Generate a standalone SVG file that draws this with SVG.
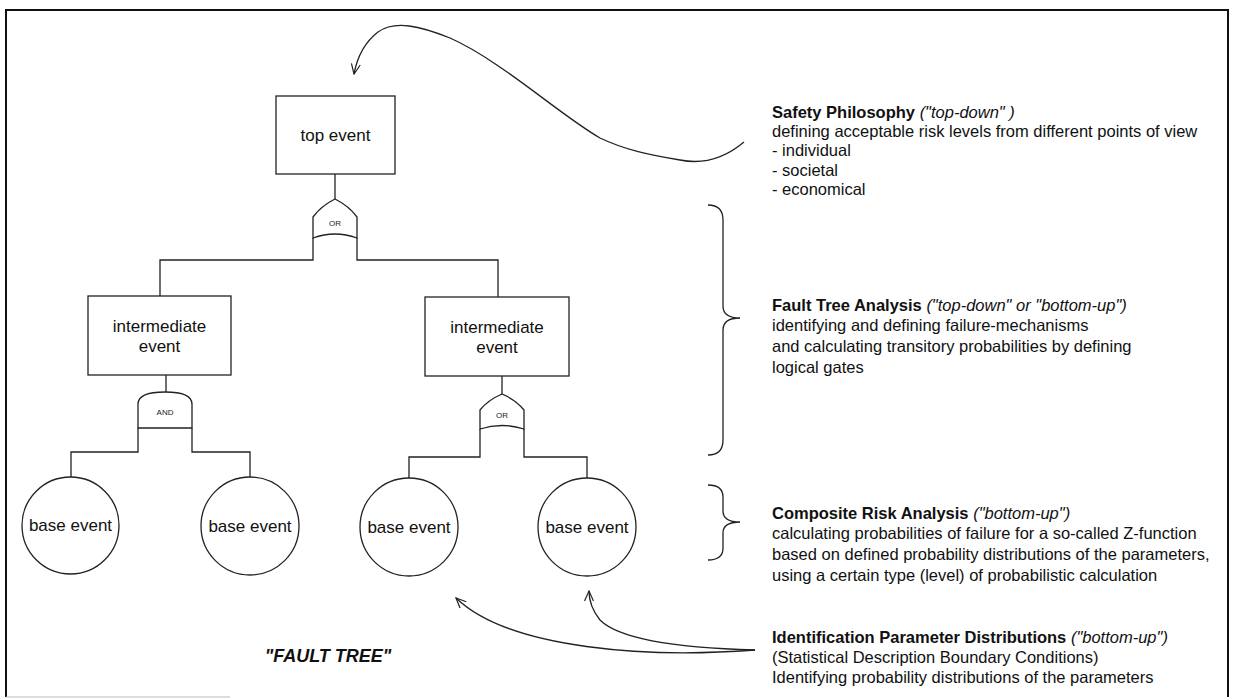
<svg xmlns="http://www.w3.org/2000/svg" width="1233" height="700" viewBox="0 0 1233 700">
<defs>
<marker id="open" viewBox="0 0 12 10" refX="11" refY="5" markerWidth="12" markerHeight="10" markerUnits="userSpaceOnUse" orient="auto">
<path d="M1,0.5 L11,5 L1,9.5" fill="none" stroke="#222" stroke-width="1.2"/>
</marker>
</defs>
<style>
.ln{fill:none;stroke:#222;stroke-width:1.3}
.bx{fill:#fff;stroke:#222;stroke-width:1.3}
.t{font-family:"Liberation Sans",Arial,sans-serif;fill:#111}
.nd{font-size:17px;text-anchor:middle}
.g{font-size:8px;text-anchor:middle;fill:#222}
.r{font-size:16.5px}
.b{font-weight:bold}
.i{font-style:italic}
</style>
<rect width="1233" height="700" fill="#fff"/>
<g id="border">
<path d="M6,697 L6,10 L1228,10 L1228,697" fill="none" stroke="#111" stroke-width="2"/>
<path d="M6,697 L230,697" fill="none" stroke="#bbb" stroke-width="1.2"/>
</g>
<g id="connectors">
<path class="ln" d="M335,174 L335,199"/>
<path class="ln" d="M313,238 L313,260 L160,260 L160,296"/>
<path class="ln" d="M357,238 L357,260 L498,260 L498,297"/>
<path class="ln" d="M166,375 L166,392"/>
<path class="ln" d="M138,428 L138,452 L71,452 L71,477"/>
<path class="ln" d="M192,428 L192,452 L250,452 L250,477"/>
<path class="ln" d="M502,376 L502,394"/>
<path class="ln" d="M480,429 L480,457 L409,457 L409,478"/>
<path class="ln" d="M524,429 L524,457 L587,457 L587,478"/>
<path class="ln" marker-end="url(#open)" d="M744,142 C725,158 705,165 680,160 C650,155 625,150 600,138 C560,115 500,60 450,38 C420,26 395,20 378,32 C365,42 357,58 354,74"/>
<path class="ln" marker-end="url(#open)" d="M755,650 C650,658 510,650 456,598"/>
<path class="ln" marker-end="url(#open)" d="M755,650 C680,648 620,640 600,620 C592,610 589,600 589,591"/>
</g>
<g id="top-event">
<rect class="bx" x="276" y="96" width="119" height="78"/>
<text class="t nd" x="335.5" y="141">top event</text>
</g>
<g id="gate-or-top">
<path class="bx" d="M313,238 L313,217 Q321,206 335,199 Q349,206 357,217 L357,238 Q335,230 313,238 Z"/>
<text class="t g" x="335" y="226">OR</text>
</g>
<g id="intermediate-left">
<rect class="bx" x="88" y="296" width="143" height="79"/>
<text class="t nd" x="159.5" y="332">intermediate</text>
<text class="t nd" x="159.5" y="352">event</text>
</g>
<g id="intermediate-right">
<rect class="bx" x="425" y="297" width="144" height="79"/>
<text class="t nd" x="497" y="333">intermediate</text>
<text class="t nd" x="497" y="353">event</text>
</g>
<g id="gate-and">
<path class="bx" d="M138,428 L138,404 Q138,392 165,392 Q192,392 192,404 L192,428 Z"/>
<text class="t g" x="165" y="415">AND</text>
</g>
<g id="gate-or-right">
<path class="bx" d="M480,429 L480,410 Q488,400 502,394 Q516,400 524,410 L524,429 Q502,422 480,429 Z"/>
<text class="t g" x="502" y="418">OR</text>
</g>
<g id="base-1">
<circle class="bx" cx="70.5" cy="525.5" r="48.5"/>
<text class="t nd" x="70.5" y="531">base event</text>
</g>
<g id="base-2">
<circle class="bx" cx="250" cy="526" r="49"/>
<text class="t nd" x="250" y="532">base event</text>
</g>
<g id="base-3">
<circle class="bx" cx="409" cy="527" r="49"/>
<text class="t nd" x="409" y="533">base event</text>
</g>
<g id="base-4">
<circle class="bx" cx="587" cy="527" r="49"/>
<text class="t nd" x="587" y="533">base event</text>
</g>
<g id="title">
<text class="t b i" x="328" y="662" font-size="18px" text-anchor="middle">"FAULT TREE"</text>
</g>
<g id="braces">
<path class="ln" d="M708,205 Q723,205 723,220 L723,306 Q723,318 740,318 Q723,318 723,330 L723,440 Q723,455 708,455"/>
<path class="ln" d="M708,485 Q723,485 723,497 L723,511 Q723,522 740,522 Q723,522 723,533 L723,548 Q723,560 708,560"/>
</g>
<g id="safety">
<text class="t r" x="772" y="118"><tspan class="b">Safety Philosophy</tspan> <tspan class="i">("top-down" )</tspan></text>
<text class="t r" x="772" y="137">defining acceptable risk levels from different points of view</text>
<text class="t r" x="772" y="156">- individual</text>
<text class="t r" x="772" y="176">- societal</text>
<text class="t r" x="772" y="195">- economical</text>
</g>
<g id="fta">
<text class="t r" x="772" y="311"><tspan class="b">Fault Tree Analysis</tspan> <tspan class="i">("top-down" or "bottom-up")</tspan></text>
<text class="t r" x="772" y="331">identifying and defining failure-mechanisms</text>
<text class="t r" x="772" y="352">and calculating transitory probabilities by defining</text>
<text class="t r" x="772" y="373">logical gates</text>
</g>
<g id="cra">
<text class="t r" x="772" y="519"><tspan class="b">Composite Risk Analysis</tspan> <tspan class="i">("bottom-up")</tspan></text>
<text class="t r" x="772" y="539">calculating probabilities of failure for a so-called Z-function</text>
<text class="t r" x="772" y="560">based on defined probability distributions of the parameters,</text>
<text class="t r" x="772" y="581">using a certain type (level) of probabilistic calculation</text>
</g>
<g id="ipd">
<text class="t r" x="772" y="643"><tspan class="b">Identification Parameter Distributions</tspan> <tspan class="i">("bottom-up")</tspan></text>
<text class="t r" x="772" y="663">(Statistical Description Boundary Conditions)</text>
<text class="t r" x="772" y="683">Identifying probability distributions of the parameters</text>
</g>
</svg>
